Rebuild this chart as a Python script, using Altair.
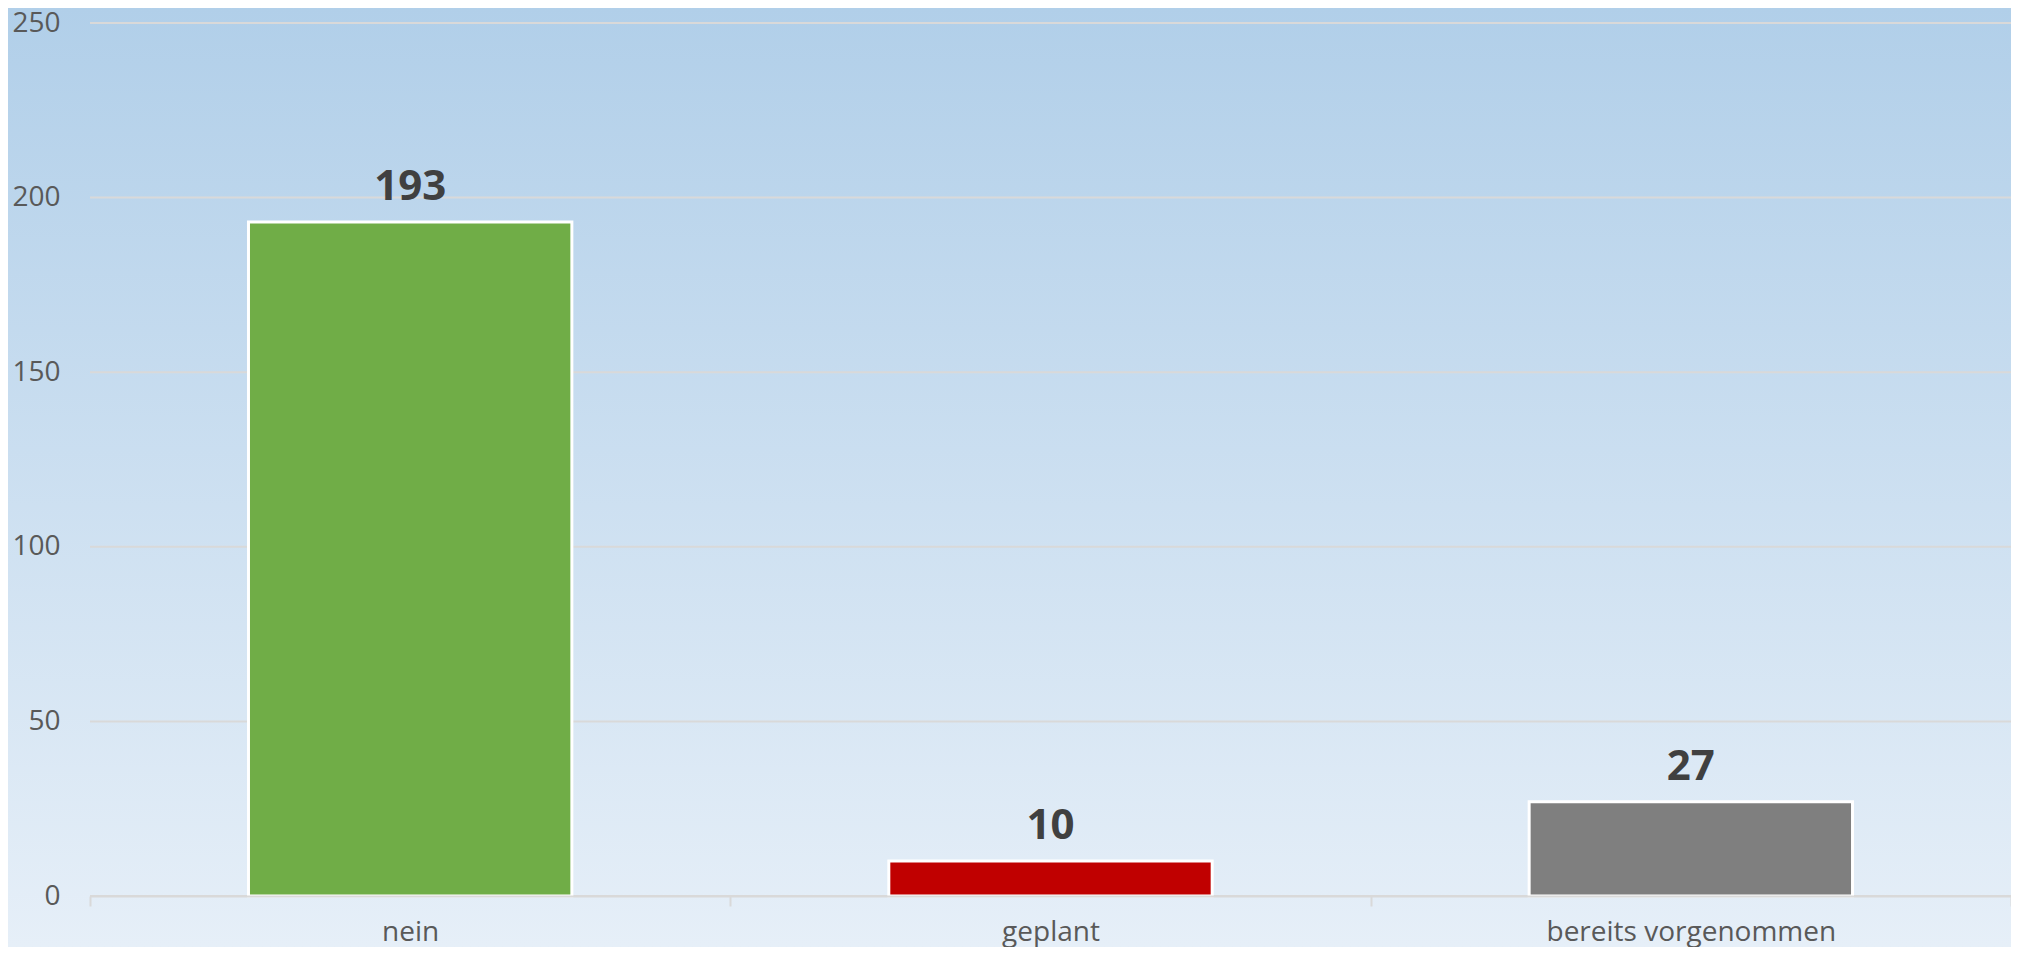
import altair as alt
import pandas as pd

categories = ["nein", "geplant", "bereits vorgenommen"]
values = [193, 10, 27]
colors = ["#70ad47", "#c00000", "#7f7f7f"]
y_ticks = [0, 50, 100, 150, 200, 250]

W, H = 1921, 873
PAD = {"left": 82, "top": 15, "right": 0, "bottom": 51}
FONT = "Open Sans"

df = pd.DataFrame({"cat": categories, "val": values})
grid_df = pd.DataFrame({"t": y_ticks})

x_enc = alt.X(
    "cat:N",
    sort=categories,
    scale=alt.Scale(domain=categories, paddingInner=0, paddingOuter=0),
    axis=alt.Axis(
        title=None, labelAngle=0, labelFontSize=28, labelFont=FONT,
        labelColor="#595959", labelPadding=12, labelLimit=800,
        domainColor="#d9d9d9", domainWidth=2,
        tickColor="#d9d9d9", tickWidth=2, tickSize=10, tickBand="extent",
        grid=False, zindex=1,
    ),
)
y_scale = alt.Scale(domain=[0, 250], nice=False)
y_axis = alt.Axis(
    values=y_ticks, grid=False, domain=False, ticks=False, tickSize=0,
    labelPadding=30, labelFontSize=28, labelFont=FONT,
    labelColor="#595959", title=None, zindex=1,
)

bg = alt.Chart(pd.DataFrame({"a": [0]})).mark_rect(
    color=alt.LinearGradient(
        gradient="linear",
        stops=[
            alt.GradientStop(color="#b1cfe9", offset=0),
            alt.GradientStop(color="#e6eff8", offset=1),
        ],
        x1=0, x2=0, y1=0, y2=1,
    )
).encode(
    x=alt.value(-PAD["left"]), x2=alt.value(W),
    y=alt.value(-PAD["top"]), y2=alt.value(H + PAD["bottom"]),
)

grid = alt.Chart(grid_df).mark_rule(color="#d9d9d9", strokeWidth=2).encode(
    y=alt.Y("t:Q", scale=y_scale, axis=y_axis),
    x=alt.value(0), x2=alt.value(W),
)

bars = alt.Chart(df).mark_bar(
    stroke="white", strokeWidth=3, width=alt.RelativeBandSize(0.505)
).encode(
    x=x_enc,
    y=alt.Y("val:Q", scale=y_scale, axis=y_axis),
    color=alt.Color("cat:N", scale=alt.Scale(domain=categories, range=colors), legend=None),
)

labels = alt.Chart(df).mark_text(
    font=FONT, fontSize=42, fontWeight="bold", color="#404040",
    baseline="alphabetic", dy=-22,
).encode(
    x=alt.X("cat:N", sort=categories),
    y=alt.Y("val:Q", scale=y_scale),
    text=alt.Text("val:Q"),
)

chart = alt.layer(bg, grid, bars, labels).properties(
    width=W, height=H,
    autosize=alt.AutoSizeParams(type="none"),
    padding=PAD,
).configure_view(stroke=None).configure(background="#e6eff8")

chart.save("out.html", embed_options={"renderer": "svg", "actions": False})
